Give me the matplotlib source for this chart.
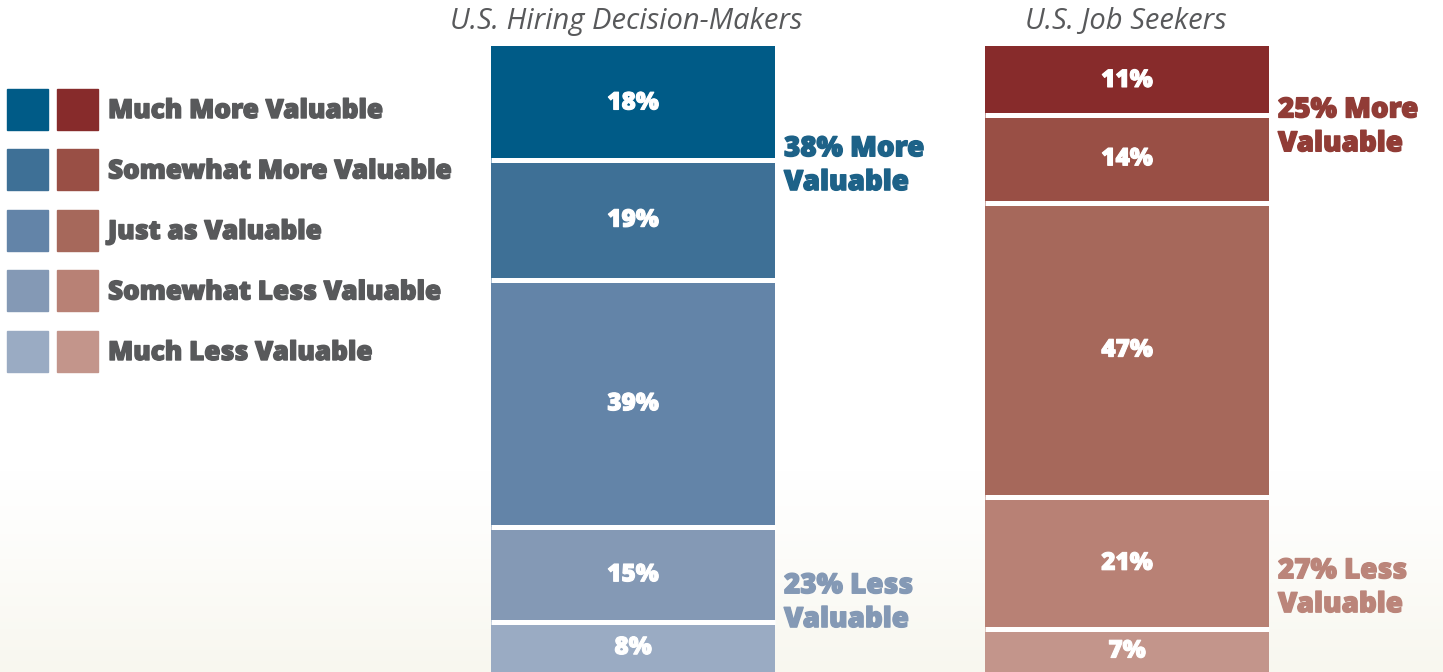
"""Stacked bars: perceived value, hiring decision-makers vs job seekers."""

import matplotlib
matplotlib.use("Agg")
import matplotlib.pyplot as plt
import matplotlib.patheffects as pe
import numpy as np
from matplotlib.patches import Rectangle

W_PX, H_PX = 1443, 672

categories = [
    "Much More Valuable",
    "Somewhat More Valuable",
    "Just as Valuable",
    "Somewhat Less Valuable",
    "Much Less Valuable",
]
groups = ["U.S. Hiring Decision-Makers", "U.S. Job Seekers"]
hiring_values = [18, 19, 39, 15, 8]
seeker_values = [11, 14, 47, 21, 7]

blues = ["#005b87", "#3e7096", "#6384a8", "#8499b5", "#9aabc3"]
reds = ["#872b2b", "#994f45", "#a6685b", "#b88175", "#c3958b"]

# summary call-outs: (label, first segment, last segment)
hiring_callouts = [("38% More\nValuable", 0, 1), ("23% Less\nValuable", 3, 4)]
seeker_callouts = [("25% More\nValuable", 0, 1), ("27% Less\nValuable", 3, 4)]
hiring_callout_colors = ["#1d6288", "#8499b5"]
seeker_callout_colors = ["#913c36", "#bb857a"]

TEXT_GREY = "#58595b"
FONT = "Open Sans"
HEAVY = 800

# each stack is scaled to its own total (full bar = 1)
PX_PER_UNIT = 627
TOP_PX = 46


def fig_xy(x_px, y_px):
    return x_px / W_PX, 1 - y_px / H_PX


def heavy(color, width=1.0):
    # thicken the face a bit, closer to the original extra-bold type
    return [pe.withStroke(linewidth=width, foreground=color)]


fig = plt.figure(figsize=(W_PX / 100, H_PX / 100), dpi=100)

# soft cream fade at the bottom
bg = fig.add_axes([0, 0, 1, 1], zorder=-5)
fade = np.ones((H_PX, 1))
start = 470
fade[start:, 0] = 1 - np.linspace(0, 1, H_PX - start) ** 1.2
top_rgb = np.array([1.0, 1.0, 1.0])
bot_rgb = np.array([0xf8, 0xf7, 0xef]) / 255
grad = fade[:, :, None] * top_rgb + (1 - fade[:, :, None]) * bot_rgb
bg.imshow(grad, aspect="auto", extent=[0, 1, 0, 1], origin="upper")
bg.axis("off")

ax = fig.add_axes([0, 0, 1, 1])
ax.set_xlim(0, W_PX)
ax.set_ylim((H_PX - TOP_PX) / PX_PER_UNIT, -TOP_PX / PX_PER_UNIT)
ax.axis("off")
ax.patch.set_alpha(0)

bar_x = [633, 1127]
title_x = [626, 1126]
bar_w = 284
series = [hiring_values, seeker_values]
palettes = [blues, reds]
callouts = [hiring_callouts, seeker_callouts]
callout_colors = [hiring_callout_colors, seeker_callout_colors]

for x, tx, vals, cols, group, notes, ncols in zip(
    bar_x, title_x, series, palettes, groups, callouts, callout_colors
):
    vals = np.array(vals)
    share = vals / vals.sum()
    bottoms = np.concatenate([[0], np.cumsum(share)[:-1]])
    ax.bar(x, share, bottom=bottoms, width=bar_w, color=cols, linewidth=0)
    ax.hlines(bottoms[1:], x - bar_w / 2, x + bar_w / 2, color="white", linewidth=3.6)
    for v, s, b in zip(vals, share, bottoms):
        ax.text(x, b + s / 2, f"{v}%", ha="center", va="center", color="white",
                fontsize=17.5, fontweight=HEAVY, family=FONT,
                path_effects=heavy("white", 0.8))
    for (label, i0, i1), c in zip(notes, ncols):
        mid = (bottoms[i0] + bottoms[i1] + share[i1]) / 2
        ax.text(x + bar_w / 2 + 9, mid + 0.004, label, ha="left", va="center", color=c,
                fontsize=20, fontweight=HEAVY, family=FONT, linespacing=1.22,
                path_effects=heavy(c))
    fig.text(*fig_xy(tx, 21), group, ha="center", va="center", color=TEXT_GREY,
             fontsize=21, style="italic", family=FONT)

# legend: one blue and one red swatch per category
row0, row_step, sw = 109, 60.5, 41
for i, cat in enumerate(categories):
    yc = row0 + i * row_step
    for x0, col in zip([7, 57], [blues[i], reds[i]]):
        fx, fy = fig_xy(x0, yc + sw / 2)
        fig.patches.append(Rectangle((fx, fy), sw / W_PX, sw / H_PX, color=col,
                                     transform=fig.transFigure))
    fig.text(*fig_xy(108, yc + 2), cat, ha="left", va="center", color=TEXT_GREY,
             fontsize=18.8, fontweight=HEAVY, family=FONT,
             path_effects=heavy(TEXT_GREY))

fig.savefig("out.png", dpi=100)
